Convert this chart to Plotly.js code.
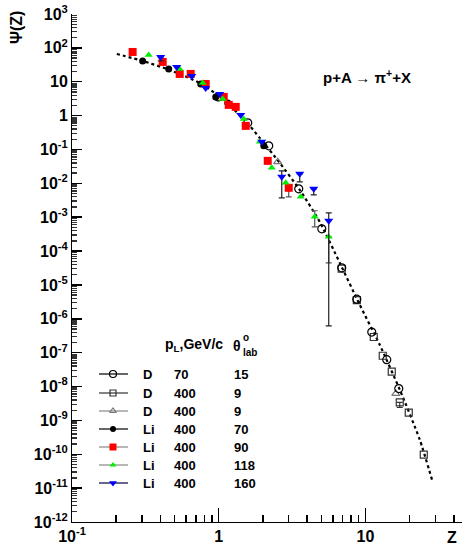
<!DOCTYPE html>
<html><head><meta charset="utf-8">
<script src="https://cdn.plot.ly/plotly-3.0.1.min.js"></script>
<style>html,body{margin:0;padding:0;background:#fff}#c{width:464px;height:548px}</style>
</head><body><div id="c"></div>
<script>
// ---- data ----
const curveZ   = [0.202, 0.303, 0.463, 0.742, 1.0, 1.503, 1.902, 2.605, 3.565, 4.88, 6.68, 9.14, 12.51, 17.13, 23.45, 28.8];
const curvePsi = [66.1, 41.1, 22.3, 9.2, 3.81, 0.746, 0.22, 0.0402, 0.00643, 7.3e-4, 4.5e-5, 2.6e-6, 1.72e-7, 8.1e-9, 2.7e-10, 1.46e-11];

const d70Z   = [0.993, 1.577, 2.192, 3.51, 5.04, 6.89, 8.73, 11.04, 13.97, 16.87];
const d70Psi = [3.56, 0.61, 0.128, 0.00688, 4.55e-4, 3.2e-5, 3.8e-6, 4.05e-7, 6.2e-8, 8.7e-9];

const d400sqZ   = [6.89, 8.73, 11.39, 13.12, 15.11, 17.13, 19.73, 24.97];
const d400sqPsi = [3.0e-5, 3.55e-6, 2.9e-7, 8.1e-8, 2.75e-8, 3.4e-9, 1.7e-9, 9.8e-11];
const d400sqLo  = [null, null, null, null, null, 2.4e-9, null, null];

const d400trZ   = [2.524, 16.10];
const d400trPsi = [0.0431, 6.2e-9];

const li70Z   = [0.303, 0.456, 0.754, 0.954, 1.152, 2.027];
const li70Psi = [41.1, 23.9, 8.6, 3.56, 2.37, 0.128];

const li90Z   = [0.259, 0.415, 0.542, 0.644, 0.815, 1.082, 1.170, 1.306, 1.528, 2.158, 3.000];
const li90Psi = [75.7, 38.4, 17.0, 17.0, 8.6, 3.56, 2.07, 1.81, 0.497, 0.0461, 0.00737];
const li90Hi  = [null, null, null, null, null, null, null, null, null, null, 0.00903];
const li90Lo  = [null, null, null, null, null, null, null, null, null, null, 0.0040];

const li118Z   = [0.333, 0.542, 0.778, 1.065, 1.480, 1.902, 2.297, 2.862, 3.62, 4.51, 5.62];
const li118Psi = [61.8, 23.9, 9.2, 3.11, 0.80, 0.168, 0.0287, 0.01035, 0.0040, 0.00103, 2.64e-4];
const li118Hi  = [null, null, null, null, null, null, null, null, null, 0.00155, null];
const li118Lo  = [null, null, null, null, null, null, null, null, null, 5.2e-4, 4.5e-5];

const li160Z   = [0.402, 0.517, 0.655, 0.815, 1.016, 1.413, 1.964, 2.688, 3.565, 4.44, 5.62];
const li160Psi = [53.9, 27.3, 14.8, 6.57, 4.37, 1.05, 0.168, 0.0156, 0.0191, 0.00688, 7.8e-4];
const li160Hi  = [null, null, null, null, null, null, null, 0.0234, null, null, 0.00135];
const li160Lo  = [41.0, null, null, null, null, null, null, 0.00373, 0.0111, 0.00458, 6.2e-7];

const yTickVals = [1e3,1e2,1e1,1,1e-1,1e-2,1e-3,1e-4,1e-5,1e-6,1e-7,1e-8,1e-9,1e-10,1e-11,1e-12];
const yTickText = ['10<sup>3</sup>','10<sup>2</sup>','10','1','10<sup>-1</sup>','10<sup>-2</sup>','10<sup>-3</sup>','10<sup>-4</sup>','10<sup>-5</sup>','10<sup>-6</sup>','10<sup>-7</sup>','10<sup>-8</sup>','10<sup>-9</sup>','10<sup>-10</sup>','10<sup>-11</sup>','10<sup>-12</sup>'];
const xTickVals = [0.1, 1, 10];
const xTickText = ['10<sup>-1</sup>', '1', '10'];

const legTarget = ['D', 'D', 'D', 'Li', 'Li', 'Li', 'Li'];
const legP      = ['70', '400', '400', '400', '400', '400', '400'];
const legTheta  = ['15', '9', '9', '70', '90', '118', '160'];

// ---- helpers ----
const FONT = 'Liberation Sans, Arial, sans-serif';
function minorVals(lo, hi) {
  const v = [];
  for (let e = lo; e < hi; e++) for (let d = 2; d <= 9; d++) v.push(d * Math.pow(10, e));
  return v;
}
function bold(a) { return a.map(s => '<b>' + s + '</b>'); }
function errs(y, hi, lo) {
  return {
    plus: y.map((v, i) => (hi && hi[i] != null) ? hi[i] - v : NaN),
    minus: y.map((v, i) => (lo && lo[i] != null) ? v - lo[i] : NaN)
  };
}
function pts(x, y, marker, hi, lo, ecol) {
  const t = {x: x, y: y, type: 'scatter', mode: 'markers', marker: marker, showlegend: false, hoverinfo: 'skip'};
  if (hi || lo) {
    const e = errs(y, hi, lo);
    t.error_y = {type: 'data', symmetric: false, array: e.plus, arrayminus: e.minus, color: ecol || '#444', thickness: 1.2, width: 3};
  }
  return t;
}

const styles = [
  {m: {symbol: 'circle-open', size: 8, color: '#000', line: {color: '#000', width: 1.2}}, lc: '#000'},
  {m: {symbol: 'square-open', size: 7, color: '#333', line: {color: '#333', width: 1.2}}, lc: '#333'},
  {m: {symbol: 'triangle-up-open', size: 7, color: '#777', line: {color: '#777', width: 1.2}}, lc: '#888'},
  {m: {symbol: 'circle', size: 7, color: '#000'}, lc: '#000'},
  {m: {symbol: 'square', size: 8, color: '#ff0000'}, lc: '#888'},
  {m: {symbol: 'triangle-up', size: 7, color: '#00ee00'}, lc: '#888'},
  {m: {symbol: 'triangle-down', size: 8, color: '#0000ff'}, lc: '#000044'}
];

const traces = [
  {x: curveZ, y: curvePsi, type: 'scatter', mode: 'lines', line: {color: '#000', width: 2.2, dash: 'dot', shape: 'spline', smoothing: 0.6}, showlegend: false, hoverinfo: 'skip'},
  pts(d400trZ, d400trPsi, styles[2].m),
  pts(d400sqZ, d400sqPsi, styles[1].m, null, d400sqLo, '#333'),
  pts(d70Z, d70Psi, styles[0].m),
  pts(li70Z, li70Psi, styles[3].m),
  pts(li90Z, li90Psi, styles[4].m, li90Hi, li90Lo, '#555'),
  pts(li118Z, li118Psi, styles[5].m, li118Hi, li118Lo, '#555'),
  pts(li160Z, li160Psi, styles[6].m, li160Hi, li160Lo, '#222')
];

// legend drawn in a pixel-like overlay axis (x2: 72..462, y2: 522..14)
const legRowY = [374, 393, 411, 429, 447, 465, 483];
const annotations = [];
legRowY.forEach((ry, i) => {
  traces.push({x: [99, 128], y: [ry, ry], xaxis: 'x2', yaxis: 'y2', type: 'scatter', mode: 'lines', line: {color: styles[i].lc, width: 1.2}, showlegend: false, hoverinfo: 'skip'});
  const m = Object.assign({}, styles[i].m, {size: styles[i].m.size - 1});
  traces.push({x: [113], y: [ry], xaxis: 'x2', yaxis: 'y2', type: 'scatter', mode: 'markers', marker: m, showlegend: false, hoverinfo: 'skip'});
  const f = {family: FONT, size: 13, color: '#000'};
  annotations.push({xref: 'x2', yref: 'y2', x: 141, y: ry, text: '<b>' + legTarget[i] + '</b>', showarrow: false, xanchor: 'left', yanchor: 'middle', font: f});
  annotations.push({xref: 'x2', yref: 'y2', x: 172, y: ry, text: '<b>' + legP[i] + '</b>', showarrow: false, xanchor: 'left', yanchor: 'middle', font: f});
  annotations.push({xref: 'x2', yref: 'y2', x: 232, y: ry, text: '<b>' + legTheta[i] + '</b>', showarrow: false, xanchor: 'left', yanchor: 'middle', font: f});
});
const hf = {family: FONT, size: 14, color: '#000'};
const sf = {family: FONT, size: 10, color: '#000'};
annotations.push({xref: 'x2', yref: 'y2', x: 163, y: 345, text: '<b>p<sub>L</sub>,GeV/c</b>', showarrow: false, xanchor: 'left', yanchor: 'middle', font: hf});
annotations.push({xref: 'x2', yref: 'y2', x: 231, y: 346, text: '<b>θ</b>', showarrow: false, xanchor: 'left', yanchor: 'middle', font: hf});
annotations.push({xref: 'x2', yref: 'y2', x: 241, y: 337, text: '<b>o</b>', showarrow: false, xanchor: 'left', yanchor: 'middle', font: sf});
annotations.push({xref: 'x2', yref: 'y2', x: 241, y: 352, text: '<b>lab</b>', showarrow: false, xanchor: 'left', yanchor: 'middle', font: sf});
annotations.push({xref: 'x2', yref: 'y2', x: 367, y: 76, text: '<b>p+A → π<sup>+</sup>+X</b>', showarrow: false, xanchor: 'center', yanchor: 'middle', font: {family: FONT, size: 15, color: '#000'}});
// axis titles, placed in paper coordinates (outside the plot area)
annotations.push({xref: 'paper', yref: 'paper', x: (17 - 72) / 390, y: (522 - 28) / 508, text: '<b>Ψ(Z)</b>', textangle: -90, showarrow: false, xanchor: 'center', yanchor: 'middle', font: {family: FONT, size: 16, color: '#000'}});
annotations.push({xref: 'paper', yref: 'paper', x: (452 - 72) / 390, y: (522 - 537) / 508, text: '<b>Z</b>', showarrow: false, xanchor: 'center', yanchor: 'middle', font: {family: FONT, size: 16, color: '#000'}});

const tickFont = {family: FONT, size: 16, color: '#000'};
const layout = {
  width: 464, height: 548,
  margin: {l: 72, r: 2, t: 14, b: 26, pad: 0},
  paper_bgcolor: '#fff', plot_bgcolor: '#fff',
  showlegend: false,
  font: {family: FONT, color: '#000'},
  xaxis: {
    type: 'log', range: [-1, 1.658], tickmode: 'array', tickvals: xTickVals, ticktext: bold(xTickText),
    ticks: 'inside', ticklen: 14, tickwidth: 1.5, tickcolor: '#000',
    minor: {tickmode: 'array', tickvals: minorVals(-1, 2), ticks: 'inside', ticklen: 7, tickwidth: 1.5, tickcolor: '#000'},
    showline: true, linecolor: '#000', linewidth: 1,
    showgrid: false, zeroline: false, tickfont: tickFont
  },
  yaxis: {
    type: 'log', range: [-12, 3], tickmode: 'array', tickvals: yTickVals, ticktext: bold(yTickText),
    ticks: 'inside', ticklen: 10, tickwidth: 1.5, tickcolor: '#000',
    minor: {tickmode: 'array', tickvals: minorVals(-12, 3), ticks: 'inside', ticklen: 5, tickwidth: 1.3, tickcolor: '#333'},
    showline: true, linecolor: '#000', linewidth: 1,
    showgrid: false, zeroline: false, tickfont: tickFont
  },
  xaxis2: {overlaying: 'x', range: [72, 462], visible: false},
  yaxis2: {overlaying: 'y', range: [522, 14], visible: false},
  annotations: annotations
};

Plotly.newPlot('c', traces, layout, {displayModeBar: false, staticPlot: true});
</script>
</body></html>
